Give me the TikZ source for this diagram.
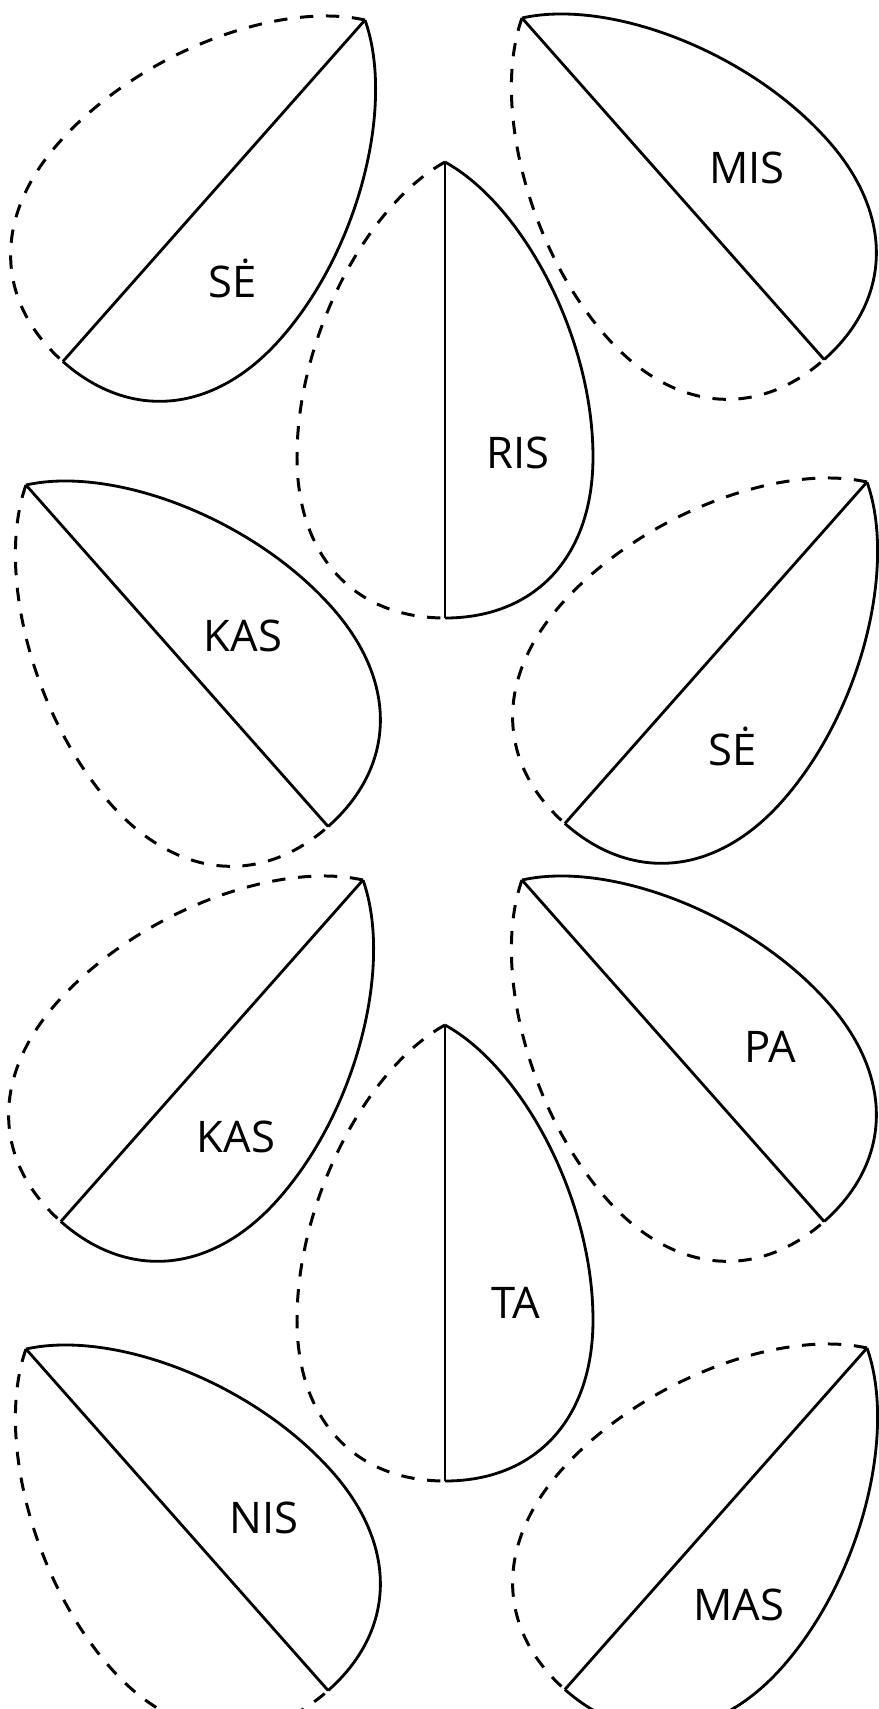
\documentclass[tikz,border=0pt]{standalone}
\usepackage{fontspec}
\setmainfont{Open Sans}

\begin{document}
\begin{tikzpicture}[x=0.1mm, y=-0.1mm,
    rim/.style={line width=0.8pt},
    fold/.style={line width=0.85pt, dash pattern=on 3.8pt off 3.6pt},
    syllable/.style={font=\fontsize{12.4}{14}\selectfont, inner sep=0pt, anchor=base},
    leaf/.pic={
        % solid half, left of the axis
        \draw[rim] (0,0) .. controls (43,-78) and (175,-148) .. (295,-148)
            .. controls (395,-148) and (456,-90) .. (456,0);
        % dashed half
        \draw[fold] (0,0) .. controls (43,78) and (175,148) .. (295,148)
            .. controls (395,148) and (456,90) .. (456,0);
        \draw[rim] (0,0) -- (456,0);
    }]
    \useasboundingbox (0,0) rectangle (879,1709);

    % leaves: tip x / tip y / turn
    \foreach \tx/\ty/\turn in {365/20/-131.5, 445/162/-90, 522/18/-48.5,
        26/485/-48.5, 867/482/-131.5, 363/880/-131.5, 522/880/-48.5,
        445/1025/-90, 26/1349/-48.5, 867/1348/-131.5}
        \pic[rotate=\turn] at (\tx,\ty) {leaf};

    \node[syllable] (se1)  at (233,297)  {SĖ};
    \node[syllable] (ris)  at (518,468)  {RIS};
    \node[syllable] (mis)  at (747,183)  {MIS};
    \node[syllable] (kas1) at (243,651)  {KAS};
    \node[syllable] (se2)  at (733,765)  {SĖ};
    \node[syllable] (kas2) at (236,1152) {KAS};
    \node[syllable] (pa)   at (770,1062) {PA};
    \node[syllable] (ta)   at (516,1318) {TA};
    \node[syllable] (nis)  at (264,1533) {NIS};
    \node[syllable] (mas)  at (739,1620) {MAS};
\end{tikzpicture}
\end{document}
